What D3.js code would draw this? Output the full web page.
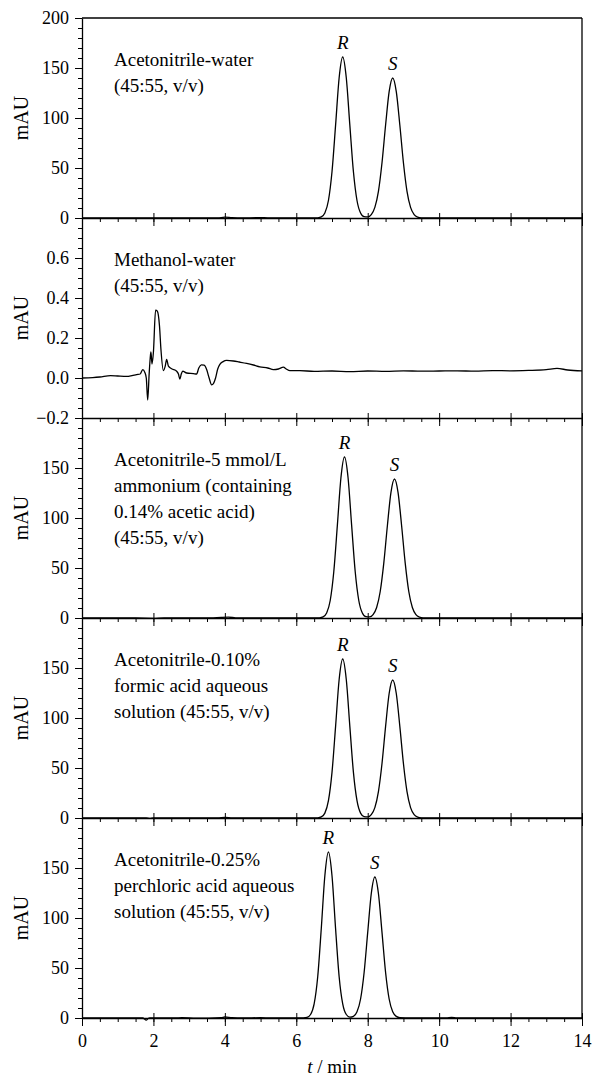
<!DOCTYPE html>
<html>
<head>
<meta charset="utf-8">
<script src="https://d3js.org/d3.v7.min.js"></script>
<title>Chromatograms</title>
<style>
body { margin: 0; background: #fff; }
</style>
</head>
<body>
<svg id="canvas" width="592" height="1076"></svg>
<script>
// ---- data: [time (min), signal (mAU)] ----
var acnWater = [[0,0],[1,0],[2,0.1],[3,0],[3.8,0],[4,0.9],[4.2,0.3],[4.5,0],[4.9,0.4],[5.1,0.4],[5.3,0],[6,0],[6.5,0],
  [6.6,0.2],[6.7,1.1],[6.8,5.0],[6.9,17.5],[7.0,46.2],[7.1,92.6],[7.2,140.2],[7.3,161],[7.4,140.2],[7.5,92.6],[7.6,46.2],
  [7.7,17.5],[7.8,5.0],[7.9,1.3],[8.0,1.1],[8.1,3.4],[8.2,10.6],[8.3,26.7],[8.4,55.3],[8.5,92.7],[8.6,126.3],[8.7,140],
  [8.8,126.3],[8.9,92.7],[9.0,55.3],[9.1,26.7],[9.2,10.6],[9.3,3.4],[9.4,0.9],[9.5,0.2],[9.7,0],[12,0],[14,0]];

var meohWater = [[0,0],[0.3,0.002],[0.5,0.005],[0.8,0.012],[1.0,0.010],[1.25,0.008],[1.4,0.012],[1.53,0.017],[1.63,0.02],
  [1.70,0.042],[1.76,0.028],[1.80,0.0],[1.84,-0.11],[1.88,0.02],[1.91,0.10],[1.93,0.13],[1.96,0.07],[2.00,0.13],[2.06,0.339],
  [2.11,0.334],[2.17,0.26],[2.21,0.144],[2.28,0.037],[2.33,0.059],[2.37,0.093],[2.42,0.059],[2.51,0.046],[2.65,0.034],
  [2.70,0.02],[2.74,-0.005],[2.78,0.02],[2.82,0.034],[2.93,0.025],[3.12,0.022],[3.21,0.02],[3.27,0.05],[3.34,0.066],
  [3.42,0.064],[3.49,0.042],[3.56,0.0],[3.63,-0.034],[3.68,-0.028],[3.74,0.0],[3.80,0.045],[3.86,0.068],[3.95,0.082],
  [4.05,0.088],[4.24,0.085],[4.40,0.08],[4.61,0.073],[4.80,0.065],[4.98,0.056],[5.2,0.05],[5.36,0.042],[5.5,0.045],
  [5.64,0.054],[5.72,0.045],[5.82,0.037],[6.1,0.037],[6.5,0.033],[7,0.035],[7.5,0.032],[8,0.035],[8.5,0.033],[9,0.036],
  [9.5,0.034],[10,0.035],[10.5,0.036],[11,0.034],[11.5,0.037],[12,0.036],[12.5,0.038],[13,0.042],[13.3,0.048],[13.6,0.04],[14,0.036]];

var acnAmmonium = [[0,0],[1.5,0],[2.0,-0.3],[2.3,0.2],[2.6,0],[3.6,0],[3.9,0.6],[4.1,0.8],[4.3,0.2],[4.6,0],[6.4,0],
  [6.65,0.2],[6.75,1.1],[6.85,5.0],[6.95,17.5],[7.05,46.2],[7.15,92.6],[7.25,140.2],[7.35,161],[7.45,140.2],[7.55,92.6],
  [7.65,46.2],[7.75,17.5],[7.85,5.0],[7.95,1.3],[8.05,1.1],[8.15,3.4],[8.25,10.5],[8.35,26.5],[8.45,54.9],[8.55,92.0],
  [8.65,125.4],[8.75,139],[8.85,125.4],[8.95,92.0],[9.05,54.9],[9.15,26.5],[9.25,10.5],[9.35,3.4],[9.45,0.9],[9.55,0.2],
  [9.8,0],[14,0]];

var acnFormic = [[0,0],[1.8,0],[1.9,-0.4],[2.0,0],[3.8,0],[4.0,0.7],[4.2,0.2],[4.5,0],[6.4,0],
  [6.6,0.2],[6.7,1.1],[6.8,4.9],[6.9,17.3],[7.0,45.6],[7.1,91.4],[7.2,138.5],[7.3,159],[7.4,138.5],[7.5,91.4],[7.6,45.6],
  [7.7,17.3],[7.8,4.9],[7.9,1.3],[8.0,1.1],[8.1,3.4],[8.2,10.4],[8.3,26.4],[8.4,54.5],[8.5,91.4],[8.6,124.5],[8.7,138],
  [8.8,124.5],[8.9,91.4],[9.0,54.5],[9.1,26.4],[9.2,10.4],[9.3,3.4],[9.4,0.9],[9.5,0.2],[9.7,0],[14,0]];

var acnPerchloric = [[0,0],[1.0,0],[1.7,0],[1.8,-2.2],[1.85,-0.5],[1.9,0],[2.6,0],[2.8,0.3],[3.2,-0.2],[3.9,0.3],[4.0,1.0],
  [4.2,0.3],[4.5,0],[5.0,0.3],[5.3,0],[6.0,0],
  [6.2,0.1],[6.3,0.6],[6.4,3.5],[6.5,14.1],[6.6,41.3],[6.7,89.5],[6.8,142.3],[6.9,166],[7.0,142.3],[7.1,89.5],[7.2,41.3],
  [7.3,14.1],[7.4,3.5],[7.5,0.9],[7.6,1.7],[7.7,6.2],[7.8,19.0],[7.9,45.8],[8.0,85.6],[8.1,124.5],[8.2,141],[8.3,124.5],
  [8.4,85.6],[8.5,45.8],[8.6,19.0],[8.7,6.2],[8.8,1.6],[8.9,0.3],[9.2,0],[10.2,0],[10.35,0.6],[10.5,0],[14,0]];

// peak labels: [name, time, height]
var peaks1 = [["R", 7.3, 161], ["S", 8.7, 140]];
var peaks3 = [["R", 7.35, 161], ["S", 8.75, 139]];
var peaks4 = [["R", 7.3, 159], ["S", 8.7, 138]];
var peaks5 = [["R", 6.9, 166], ["S", 8.2, 141]];

var notes1 = ["Acetonitrile-water", "(45:55, v/v)"];
var notes2 = ["Methanol-water", "(45:55, v/v)"];
var notes3 = ["Acetonitrile-5 mmol/L", "ammonium (containing", "0.14% acetic acid)", "(45:55, v/v)"];
var notes4 = ["Acetonitrile-0.10%", "formic acid aqueous", "solution (45:55, v/v)"];
var notes5 = ["Acetonitrile-0.25%", "perchloric acid aqueous", "solution (45:55, v/v)"];

var xMajor = [0, 2, 4, 6, 8, 10, 12, 14];
var yMajorMau = [0, 50, 100, 150];
var yMajorTop = [0, 50, 100, 150, 200];
var yMajorSmall = [-0.2, 0.0, 0.2, 0.4, 0.6];

var fmtMau = d3.format("d");
var fmtSmall = function(d) { return d < 0 ? "\u2212" + Math.abs(d).toFixed(1) : d.toFixed(1); };

var panels = [
  {trace: acnWater, peaks: peaks1, notes: notes1, domain: [0, 200], majors: yMajorTop, minorStep: 10, fmt: fmtMau},
  {trace: meohWater, peaks: [], notes: notes2, domain: [-0.2, 0.8], majors: yMajorSmall, minorStep: 0.05, fmt: fmtSmall},
  {trace: acnAmmonium, peaks: peaks3, notes: notes3, domain: [0, 200], majors: yMajorMau, minorStep: 10, fmt: fmtMau},
  {trace: acnFormic, peaks: peaks4, notes: notes4, domain: [0, 200], majors: yMajorMau, minorStep: 10, fmt: fmtMau},
  {trace: acnPerchloric, peaks: peaks5, notes: notes5, domain: [0, 200], majors: yMajorMau, minorStep: 10, fmt: fmtMau}
];

var serif = "'Liberation Serif', 'Times New Roman', 'DejaVu Serif', serif";
var marginLeft = 82, marginTop = 18, plotW = 500, panelH = 200;
var svg = d3.select("#canvas");

var x = d3.scaleLinear().domain([0, 14]).range([0, plotW]);
var xMinor = d3.range(0, 14.001, 0.5);

panels.forEach(function(p, i) {
  var g = svg.append("g").attr("transform", "translate(" + marginLeft + "," + (marginTop + i * panelH) + ")");
  var y = d3.scaleLinear().domain(p.domain).range([panelH, 0]);
  var yMinor = d3.range(p.domain[0], p.domain[1] + p.minorStep / 2, p.minorStep);

  // y minor ticks
  g.append("g").call(d3.axisLeft(y).tickValues(yMinor).tickSize(4).tickFormat(""))
    .call(function(a) { a.select(".domain").remove(); });
  // y major ticks
  var ya = g.append("g").call(d3.axisLeft(y).tickValues(p.majors).tickSizeInner(7).tickSizeOuter(0).tickPadding(6).tickFormat(p.fmt));
  ya.selectAll("text").style("font-size", "18px");

  // x minor ticks
  g.append("g").attr("transform", "translate(0," + panelH + ")")
    .call(d3.axisBottom(x).tickValues(xMinor).tickSize(4).tickFormat(""))
    .call(function(a) { a.select(".domain").remove(); });
  // x major ticks
  var xa = g.append("g").attr("transform", "translate(0," + panelH + ")")
    .call(d3.axisBottom(x).tickValues(xMajor).tickSizeInner(8).tickSizeOuter(0).tickPadding(8)
      .tickFormat(i === panels.length - 1 ? d3.format("d") : ""));
  xa.selectAll(".tick line").attr("y1", -5);
  xa.selectAll("text").style("font-size", "18px");

  g.selectAll(".domain").attr("stroke-width", 1.3);

  // frame: right side, and top of the first panel
  g.append("line").attr("x1", plotW).attr("x2", plotW).attr("y1", 0).attr("y2", panelH)
    .attr("stroke", "#000").attr("stroke-width", 1.3);
  if (i === 0) {
    g.append("line").attr("x1", 0).attr("x2", plotW).attr("y1", 0).attr("y2", 0)
      .attr("stroke", "#000").attr("stroke-width", 1.3);
  }

  // trace
  var line = d3.line().x(function(d) { return x(d[0]); }).y(function(d) { return y(d[1]); })
    .curve(d3.curveMonotoneX);
  g.append("path").datum(p.trace).attr("d", line)
    .attr("fill", "none").attr("stroke", "#000").attr("stroke-width", 1.3);

  // peak labels
  g.selectAll(".peak").data(p.peaks).enter().append("text")
    .attr("x", function(d) { return x(d[1]); })
    .attr("y", function(d) { return y(d[2]) - 8; })
    .attr("text-anchor", "middle")
    .style("font-size", "19px").style("font-style", "italic")
    .text(function(d) { return d[0]; });

  // condition text
  g.selectAll(".note").data(p.notes).enter().append("text")
    .attr("x", 32)
    .attr("y", function(d, k) { return 48 + k * 26; })
    .style("font-size", "19px")
    .text(function(d) { return d; });

  // y title
  g.append("text")
    .attr("transform", "translate(" + (-marginLeft + 28) + "," + (panelH / 2) + ") rotate(-90)")
    .attr("text-anchor", "middle")
    .style("font-size", "20px")
    .text("mAU");
});

// x title
var xt = svg.append("text")
  .attr("x", marginLeft + plotW / 2).attr("y", 1073)
  .attr("text-anchor", "middle")
  .style("font-size", "19px");
xt.append("tspan").style("font-style", "italic").text("t");
xt.append("tspan").text(" / min");

svg.selectAll("text").style("font-family", serif).attr("fill", "#000");
</script>
</body>
</html>
